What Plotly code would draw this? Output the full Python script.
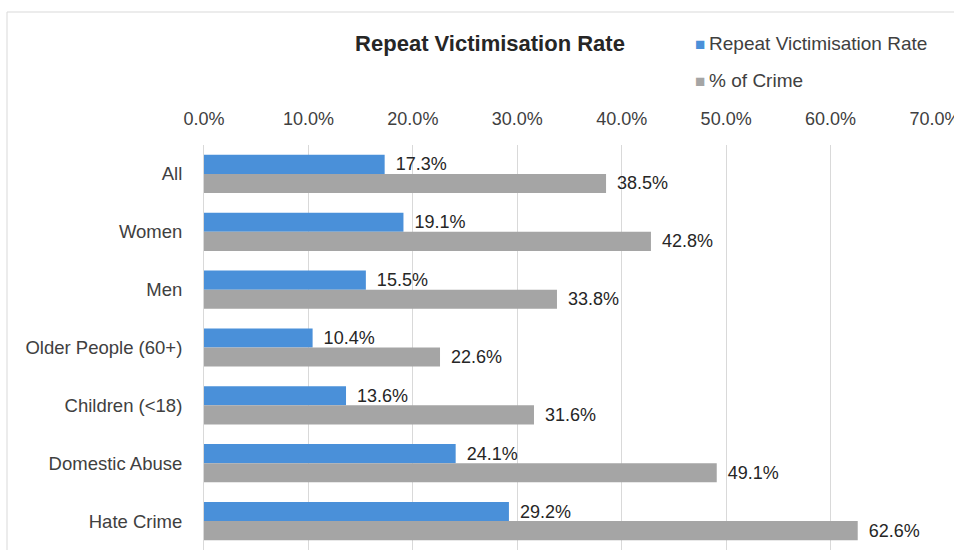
import plotly.graph_objects as go

# Victim groups (top to bottom) and their rates
categories = ["All", "Women", "Men", "Older People (60+)", "Children (<18)",
              "Domestic Abuse", "Hate Crime"]
repeat_rate = [0.173, 0.191, 0.155, 0.104, 0.136, 0.241, 0.292]
pct_of_crime = [0.385, 0.428, 0.338, 0.226, 0.316, 0.491, 0.626]

series_names = ["Repeat Victimisation Rate", "% of Crime"]
series_colors = ["#4a90d9", "#a5a5a5"]

tick_vals = [0.0, 0.1, 0.2, 0.3, 0.4, 0.5, 0.6, 0.7]
tick_text = ["0.0%", "10.0%", "20.0%", "30.0%", "40.0%", "50.0%", "60.0%", "70.0%"]

FONT = "Liberation Sans, Arial, sans-serif"
W, H = 954, 550
ML, MR, MT, MB = 204, 19, 145, 0
PW, PH = W - ML - MR, H - MT - MB

fig = go.Figure()
for vals, name, color in zip([repeat_rate, pct_of_crime], series_names, series_colors):
    fig.add_trace(go.Bar(
        y=categories, x=vals, orientation="h", name=name,
        marker=dict(color=color, line=dict(width=0)),
        texttemplate=" \u2006%{x:.1%}", textposition="outside",
        textfont=dict(size=18, color="#262626", family=FONT),
        constraintext="none", cliponaxis=False, showlegend=False,
    ))


def px_to_paper_x(px):
    return (px - ML) / PW


def px_to_paper_y(py):
    return (H - MB - py) / PH


# outer chart frame
fig.add_shape(type="rect", xref="paper", yref="paper",
              x0=px_to_paper_x(7), x1=px_to_paper_x(1000),
              y0=px_to_paper_y(600), y1=px_to_paper_y(12),
              line=dict(color="#d9d9d9", width=1), fillcolor="rgba(0,0,0,0)", layer="below")

# legend entries drawn as text with coloured squares
for i, (name, color) in enumerate(zip(series_names, series_colors)):
    fig.add_annotation(
        xref="paper", yref="paper", x=px_to_paper_x(693), y=px_to_paper_y(43 + 38 * i),
        xanchor="left", yanchor="middle", showarrow=False,
        text=f"<span style='color:{color};font-size:17px'>■</span>\u2009{name}",
        font=dict(size=19, color="#404040", family=FONT),
    )

fig.update_layout(
    width=W, height=H,
    margin=dict(l=ML, r=MR, t=MT, b=MB, pad=0, autoexpand=False),
    paper_bgcolor="white", plot_bgcolor="white",
    barmode="group", bargap=0.34, bargroupgap=0,
    font=dict(family=FONT, size=18, color="#404040"),
    title=dict(text="<b>Repeat Victimisation Rate</b>", xref="container", yref="container",
               x=490 / W, y=1 - 43 / H, xanchor="center", yanchor="middle",
               font=dict(size=22, color="#262626", family=FONT)),
    showlegend=False,
)
fig.update_xaxes(side="top", range=[0, 0.7], tickvals=tick_vals, ticktext=tick_text,
                 showgrid=True, gridcolor="#d9d9d9", gridwidth=1, zeroline=False,
                 showline=False, ticks="", ticklabelstandoff=15, automargin=False,
                 ticklabeloverflow="allow",
                 tickfont=dict(size=18, color="#404040", family=FONT))
fig.update_yaxes(autorange="reversed", showgrid=False, showline=True, linecolor="#d9d9d9",
                 ticks="", ticklabelstandoff=17, automargin=False,
                 tickfont=dict(size=18.5, color="#404040", family=FONT))

fig.write_html("out.html")
